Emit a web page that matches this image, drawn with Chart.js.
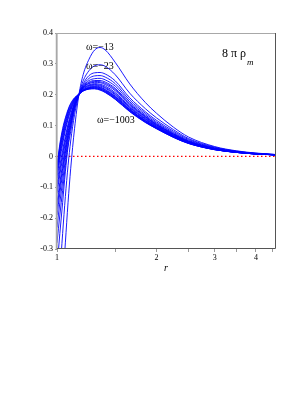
<!DOCTYPE html>
<html>
<head>
<meta charset="utf-8">
<script src="https://cdn.jsdelivr.net/npm/chart.js@4"></script>
<style>
  html, body { margin: 0; padding: 0; background: #fff; }
  canvas { display: block; }
</style>
</head>
<body>
<canvas id="rhoChart" width="306" height="396"></canvas>
<script>
// r grid shared by every curve
const rGrid = [1.0, 1.02, 1.04, 1.06, 1.08, 1.1, 1.13, 1.165, 1.2, 1.25, 1.3, 1.35, 1.4, 1.5, 1.66, 1.85, 2.0, 2.25, 2.5, 3.0, 3.5, 4.0, 4.6];

// 8 pi rho_m, one array per omega
const rhoW13   = [-0.75, -0.6, -0.42, -0.28, -0.15, -0.04, 0.09, 0.2, 0.265, 0.315, 0.345, 0.353, 0.345, 0.305, 0.235, 0.175, 0.14, 0.095, 0.063, 0.032, 0.018, 0.011, 0.006];
const rhoW23   = [-0.5, -0.38, -0.25, -0.13, -0.03, 0.05, 0.135, 0.2, 0.245, 0.278, 0.294, 0.297, 0.292, 0.265, 0.205, 0.155, 0.125, 0.087, 0.058, 0.03, 0.017, 0.01, 0.006];
const rhoW33   = [-0.36, -0.25, -0.15, -0.05, 0.03, 0.08, 0.15, 0.2, 0.235, 0.262, 0.271, 0.272, 0.267, 0.245, 0.19, 0.145, 0.117, 0.082, 0.055, 0.028, 0.016, 0.01, 0.006];
const rhoW43   = [-0.28, -0.19, -0.11, -0.03, 0.04, 0.095, 0.155, 0.2, 0.23, 0.253, 0.261, 0.262, 0.257, 0.236, 0.183, 0.14, 0.112, 0.078, 0.052, 0.027, 0.015, 0.009, 0.005];
const rhoW53   = [-0.23, -0.15, -0.08, -0.01, 0.055, 0.1, 0.16, 0.2, 0.227, 0.246, 0.252, 0.253, 0.248, 0.228, 0.177, 0.135, 0.108, 0.075, 0.05, 0.026, 0.015, 0.009, 0.005];
const rhoW63   = [-0.19, -0.12, -0.055, 0.01, 0.065, 0.108, 0.163, 0.2, 0.225, 0.241, 0.246, 0.246, 0.241, 0.221, 0.172, 0.131, 0.105, 0.073, 0.049, 0.025, 0.015, 0.009, 0.005];
const rhoW73   = [-0.17, -0.1, -0.04, 0.02, 0.072, 0.113, 0.165, 0.2, 0.223, 0.238, 0.243, 0.242, 0.237, 0.217, 0.169, 0.129, 0.103, 0.072, 0.048, 0.025, 0.014, 0.009, 0.005];
const rhoW83   = [-0.15, -0.085, -0.025, 0.03, 0.08, 0.118, 0.168, 0.2, 0.222, 0.236, 0.24, 0.239, 0.233, 0.213, 0.166, 0.127, 0.102, 0.071, 0.048, 0.025, 0.014, 0.009, 0.005];
const rhoW103  = [-0.12, -0.06, -0.005, 0.045, 0.09, 0.126, 0.171, 0.2, 0.22, 0.232, 0.236, 0.234, 0.228, 0.207, 0.162, 0.124, 0.1, 0.069, 0.047, 0.024, 0.014, 0.009, 0.005];
const rhoW123  = [-0.105, -0.045, 0.008, 0.055, 0.097, 0.131, 0.173, 0.2, 0.218, 0.23, 0.233, 0.231, 0.224, 0.203, 0.159, 0.122, 0.098, 0.068, 0.046, 0.024, 0.014, 0.008, 0.005];
const rhoW153  = [-0.09, -0.03, 0.02, 0.065, 0.105, 0.137, 0.176, 0.201, 0.217, 0.228, 0.231, 0.228, 0.221, 0.2, 0.157, 0.12, 0.097, 0.067, 0.046, 0.024, 0.014, 0.008, 0.005];
const rhoW203  = [-0.07, -0.01, 0.04, 0.085, 0.12, 0.148, 0.18, 0.201, 0.215, 0.225, 0.228, 0.225, 0.217, 0.196, 0.154, 0.117, 0.095, 0.066, 0.045, 0.023, 0.013, 0.008, 0.005];
const rhoW253  = [-0.06, 0.0, 0.05, 0.092, 0.126, 0.152, 0.182, 0.201, 0.214, 0.223, 0.226, 0.223, 0.215, 0.194, 0.152, 0.116, 0.094, 0.065, 0.044, 0.023, 0.013, 0.008, 0.005];
const rhoW303  = [-0.05, 0.01, 0.06, 0.1, 0.132, 0.157, 0.184, 0.201, 0.214, 0.222, 0.225, 0.221, 0.213, 0.192, 0.151, 0.115, 0.093, 0.064, 0.044, 0.023, 0.013, 0.008, 0.005];
const rhoW403  = [-0.045, 0.018, 0.068, 0.107, 0.138, 0.161, 0.186, 0.202, 0.213, 0.221, 0.223, 0.219, 0.211, 0.19, 0.149, 0.113, 0.092, 0.063, 0.043, 0.022, 0.013, 0.008, 0.005];
const rhoW503  = [-0.04, 0.025, 0.075, 0.113, 0.143, 0.165, 0.187, 0.202, 0.213, 0.22, 0.222, 0.218, 0.21, 0.188, 0.148, 0.112, 0.091, 0.063, 0.043, 0.022, 0.013, 0.008, 0.005];
const rhoW753  = [-0.035, 0.033, 0.083, 0.12, 0.148, 0.169, 0.189, 0.202, 0.212, 0.219, 0.22, 0.216, 0.208, 0.186, 0.146, 0.111, 0.09, 0.062, 0.042, 0.022, 0.013, 0.008, 0.005];
const rhoW1003 = [-0.03, 0.04, 0.09, 0.125, 0.152, 0.172, 0.19, 0.202, 0.212, 0.218, 0.219, 0.215, 0.207, 0.185, 0.145, 0.11, 0.09, 0.062, 0.042, 0.022, 0.013, 0.008, 0.005];

const curves = [rhoW13, rhoW23, rhoW33, rhoW43, rhoW53, rhoW63, rhoW73, rhoW83, rhoW103, rhoW123,
                rhoW153, rhoW203, rhoW253, rhoW303, rhoW403, rhoW503, rhoW753, rhoW1003];

// axis ticks
const xTickMajor = [1, 2, 3, 4];
const xTickMinor = [1.5, 2.5, 3.5, 4.5];
const zeroLineR = [1.0, 4.6];

const SERIF = "'Liberation Serif', 'DejaVu Serif', serif";

function frameAndText() {
  return {
    id: 'frameAndText',
    afterDatasetsDraw(chart) {
      const ctx = chart.ctx;
      const a = chart.chartArea;
      ctx.save();
      // box round the plot
      ctx.lineWidth = 1;
      ctx.strokeStyle = '#a8a8a8';
      ctx.beginPath();
      ctx.moveTo(a.left, a.bottom);
      ctx.lineTo(a.left, a.top + 0.5);
      ctx.lineTo(a.right, a.top + 0.5);
      ctx.stroke();
      ctx.lineWidth = 1.5;
      ctx.beginPath();
      ctx.moveTo(a.left - 0.5, a.top);
      ctx.lineTo(a.left - 0.5, a.bottom);
      ctx.stroke();
      ctx.lineWidth = 1;
      ctx.strokeStyle = '#555';
      ctx.beginPath();
      ctx.moveTo(a.right - 0.5, a.top);
      ctx.lineTo(a.right - 0.5, a.bottom - 0.5);
      ctx.lineTo(a.left, a.bottom - 0.5);
      ctx.stroke();

      // labels on the curves
      ctx.fillStyle = '#000';
      ctx.textBaseline = 'alphabetic';
      ctx.textAlign = 'left';
      ctx.font = '10px ' + SERIF;
      ctx.fillText('\u03c9=\u221213', 86, 50);
      ctx.fillText('\u03c9=\u221223', 86, 69);
      ctx.fillText('\u03c9=\u22121003', 97, 123);

      ctx.font = '12px ' + SERIF;
      ctx.fillText('8 \u03c0 \u03c1', 222, 57);
      ctx.font = 'italic 9px ' + SERIF;
      ctx.fillText('m', 247, 65);

      ctx.font = 'italic 10px ' + SERIF;
      ctx.textAlign = 'center';
      ctx.fillText('r', 166, 271);
      ctx.restore();
    }
  };
}

var datasets = curves.map(function (vals) {
  return {
    data: rGrid.map(function (r, i) { return { x: r, y: vals[i] }; }),
    borderColor: '#0000ff',
    borderWidth: 0.9,
    pointRadius: 0,
    cubicInterpolationMode: 'monotone',
    fill: false
  };
});

datasets.push({
  data: zeroLineR.map(function (r) { return { x: r, y: 0 }; }),
  borderColor: '#ff0000',
  borderWidth: 1.2,
  borderDash: [1.5, 2.5],
  pointRadius: 0,
  fill: false
});

var ctx = document.getElementById('rhoChart').getContext('2d');
new Chart(ctx, {
  type: 'line',
  data: { datasets: datasets },
  plugins: [frameAndText()],
  options: {
    responsive: false,
    animation: false,
    devicePixelRatio: 1,
    layout: { padding: { left: 0, top: 33, right: 30, bottom: 117 } },
    plugins: {
      legend: { display: false },
      tooltip: { enabled: false }
    },
    scales: {
      x: {
        type: 'logarithmic',
        min: 1,
        max: 4.6,
        afterFit: function (axis) { axis.height = 30; },
        afterBuildTicks: function (axis) {
          axis.ticks = xTickMajor.concat(xTickMinor).map(function (v) { return { value: v }; });
        },
        ticks: {
          autoSkip: false,
          maxRotation: 0,
          padding: 1,
          color: '#000',
          font: { family: SERIF, size: 8 },
          callback: function (v) { return xTickMajor.indexOf(v) >= 0 ? String(v) : ''; }
        },
        grid: { drawOnChartArea: false, tickLength: 3, color: '#999' },
        border: { display: false }
      },
      y: {
        min: -0.3,
        max: 0.4,
        afterFit: function (axis) { axis.width = 57; },
        ticks: {
          stepSize: 0.1,
          padding: 2,
          color: '#000',
          font: { family: SERIF, size: 8 },
          callback: function (v) {
            var s = Math.round(v * 10) / 10;
            return s === 0 ? '0' : String(s);
          }
        },
        grid: { drawOnChartArea: false, tickLength: 2, color: '#999' },
        border: { display: false }
      }
    }
  }
});
</script>
</body>
</html>
